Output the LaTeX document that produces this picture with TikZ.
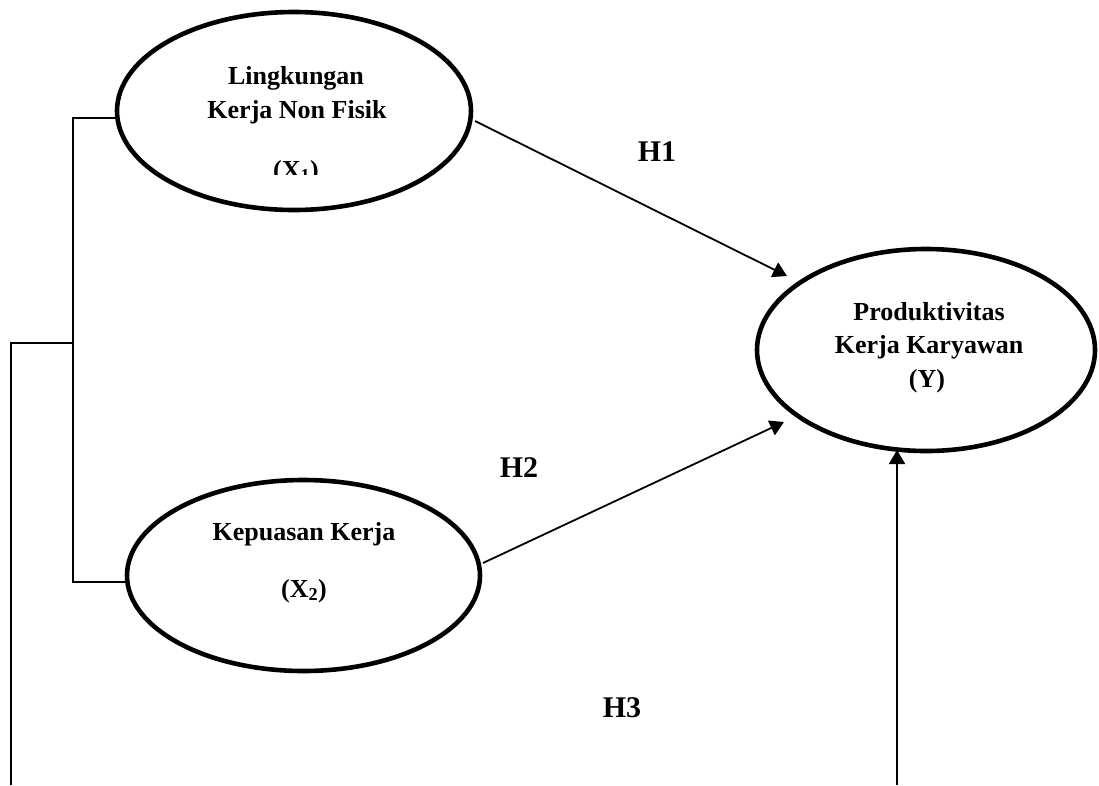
\documentclass[tikz,border=0pt]{standalone}
\usepackage{fontspec}
\setmainfont{Liberation Serif}
\usetikzlibrary{shapes.geometric,arrows.meta,calc}
\tikzset{
  latent/.style={draw, ellipse, line width=4.6pt, inner sep=0pt},
  lbl/.style={font=\fontsize{26}{30}\selectfont\bfseries, anchor=base, inner sep=0pt},
  hyp/.style={font=\fontsize{30}{34}\selectfont\bfseries, anchor=base, inner sep=0pt},
  link/.style={line width=1.8pt},
  arr/.style={line width=1.8pt, -{Triangle[width=16pt,length=14pt]}}
}
\begin{document}
\begin{tikzpicture}[x=1pt,y=-1pt]
\useasboundingbox (0,0) rectangle (1099,785);
% latent variables
\node[latent, minimum width=354pt, minimum height=198pt] (X1) at (294,111) {};
\node[latent, minimum width=353pt, minimum height=191pt] (X2) at (303.5,575.5) {};
\node[latent, minimum width=338pt, minimum height=202pt] (Y) at (926,350) {};
% texts
\node[lbl] (x1a) at (296,84) {Lingkungan};
\node[lbl] (x1b) at (297,118) {Kerja Non Fisik};
\begin{scope}
  \clip (200,140) rectangle (400,174);
  \node[lbl] (x1c) at (296,178) {(X\textsubscript{1})};
\end{scope}
\node[lbl] (x2a) at (304,540) {Kepuasan Kerja};
\node[lbl] (x2b) at (304,597) {(X\textsubscript{2})};
\node[lbl] (ya) at (929,320) {Produktivitas};
\node[lbl] (yb) at (929,353) {Kerja Karyawan};
\node[lbl] (yc) at (927,387) {(Y)};
% hypothesis labels
\node[hyp] (h1) at (657,161) {H1};
\node[hyp] (h2) at (519,477) {H2};
\node[hyp] (h3) at (622,717) {H3};
% bracket lines
\coordinate (j1) at (73,118);
\coordinate (j2) at (73,582);
\coordinate (jm) at (73,343);
\coordinate (o1) at (11,343);
\coordinate (o2) at (11,785);
\draw[link] ($(X1.center)+(-176,7)$) -- (j1) -- (j2) -- ($(X2.center)+(-176,6.5)$);
\draw[link] (jm) -- (o1) -- (o2);
% arrows
\coordinate (h3s) at (897,785);
\draw[arr] ($(X1.center)+(181,10)$) -- ($(Y.center)+(-139,-74)$);
\draw[arr] ($(X2.center)+(179.5,-12.5)$) -- ($(Y.center)+(-142,72)$);
\draw[arr] (h3s) -- ($(Y.center)+(-29,100)$);
\end{tikzpicture}
\end{document}
